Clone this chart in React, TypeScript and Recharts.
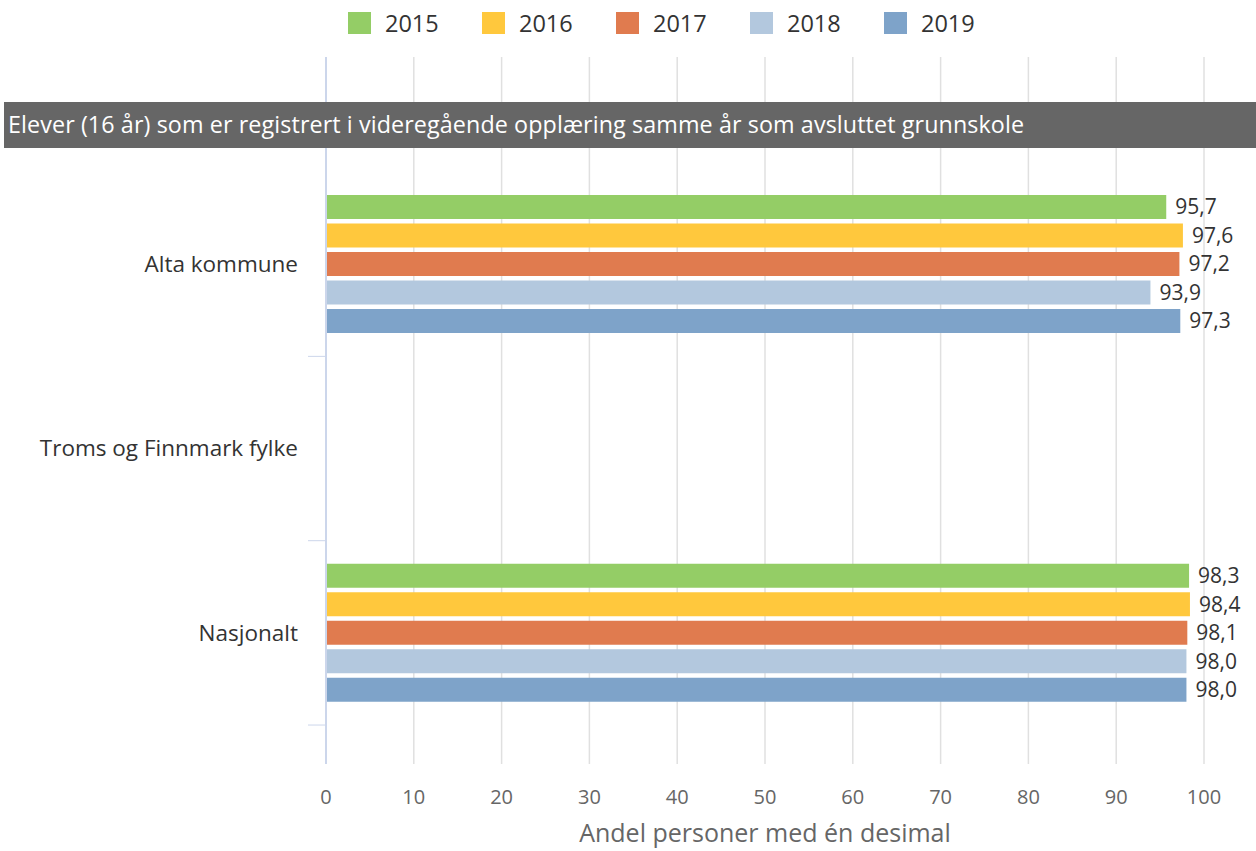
import React from 'react';
import { BarChart, Bar, XAxis, YAxis, CartesianGrid, LabelList } from 'recharts';

// Regions on the category axis
const regions = ['Alta kommune', 'Troms og Finnmark fylke', 'Nasjonalt'];

// One array per year, null where no data is published
const y2015 = [95.7, null, 98.3];
const y2016 = [97.6, null, 98.4];
const y2017 = [97.2, null, 98.1];
const y2018 = [93.9, null, 98.0];
const y2019 = [97.3, null, 98.0];

const years = ['2015', '2016', '2017', '2018', '2019'];
const xTicks = [0, 10, 20, 30, 40, 50, 60, 70, 80, 90, 100];

const COLORS = ['#94cd66', '#ffc83d', '#e07b4f', '#b3c8de', '#7ea3c9'];

const TITLE = 'Elever (16 år) som er registrert i videregående opplæring samme år som avsluttet grunnskole';
const FONT = '"Open Sans", "Noto Sans", sans-serif';

const series = [y2015, y2016, y2017, y2018, y2019];
const data = regions.map((name, i) => {
  const row: any = { name };
  years.forEach((yr, j) => {
    row[yr] = series[j][i];
  });
  return row;
});

const fmt = (v: any) => (v == null ? '' : Number(v).toFixed(1).replace('.', ','));

// category label plus the boundary tick below it (highcharts style)
const CategoryTick: React.FC<any> = ({ y, payload }) => (
  <g>
    <text x={298} y={y} dy="0.35em" textAnchor="end" fill="#333" fontSize={22.5} fontFamily={FONT}>
      {payload.value}
    </text>
    <line x1={308} x2={326} y1={y + 92.2} y2={y + 92.2} stroke="#ccd6eb" strokeWidth={1} />
  </g>
);

const App: React.FC = () => {
  return (
    <div style={{ position: 'absolute', left: 0, top: 0, width: 1256, height: 851, background: '#fff', fontFamily: FONT }}>
      {/* legend */}
      <div style={{ position: 'absolute', top: 0, left: 348, height: 45, display: 'flex', alignItems: 'center' }}>
        {years.map((yr, i) => (
          <div key={yr} style={{ display: 'flex', alignItems: 'center', width: 134 }}>
            <span style={{ display: 'inline-block', width: 23, height: 22, background: COLORS[i], marginRight: 14 }} />
            <span style={{ fontSize: 23.5, color: '#333' }}>{yr}</span>
          </div>
        ))}
      </div>

      <BarChart
        width={1256}
        height={851}
        data={data}
        layout="vertical"
        margin={{ top: 57, right: 52, left: 0, bottom: 0 }}
        barSize={24}
        barGap={4.5}
      >
        <CartesianGrid horizontal={false} stroke="#e0e0e0" strokeWidth={1.5} />
        <XAxis
          type="number"
          domain={[0, 100]}
          ticks={xTicks}
          height={87}
          axisLine={false}
          tickLine={false}
          tickSize={0}
          tickMargin={26}
          tick={{ fill: '#666', fontSize: 20, fontFamily: FONT }}
          label={{ value: 'Andel personer med én desimal', position: 'insideBottom', offset: 9, fill: '#666', fontSize: 25, fontFamily: FONT }}
        />
        <YAxis
          type="category"
          dataKey="name"
          width={326}
          padding={{ top: 115, bottom: 39 }}
          axisLine={{ stroke: '#ccd6eb', strokeWidth: 2 }}
          tickLine={false}
          tickSize={0}
          tick={<CategoryTick />}
          interval={0}
        />
        {years.map((yr, i) => (
          <Bar key={yr} dataKey={yr} fill={COLORS[i]} isAnimationActive={false}>
            <LabelList dataKey={yr} position="right" offset={9} formatter={fmt} fill="#333" fontSize={21} fontFamily={FONT} />
          </Bar>
        ))}
      </BarChart>

      {/* header band over the plot */}
      <div
        style={{
          position: 'absolute',
          left: 4,
          top: 102,
          width: 1252,
          height: 46,
          background: '#666',
          color: '#fff',
          fontSize: 23.3,
          lineHeight: '44px',
          paddingLeft: 4,
          boxSizing: 'border-box',
          whiteSpace: 'nowrap',
          letterSpacing: 0.1,
        }}
      >
        {TITLE}
      </div>
    </div>
  );
};

export default App;
